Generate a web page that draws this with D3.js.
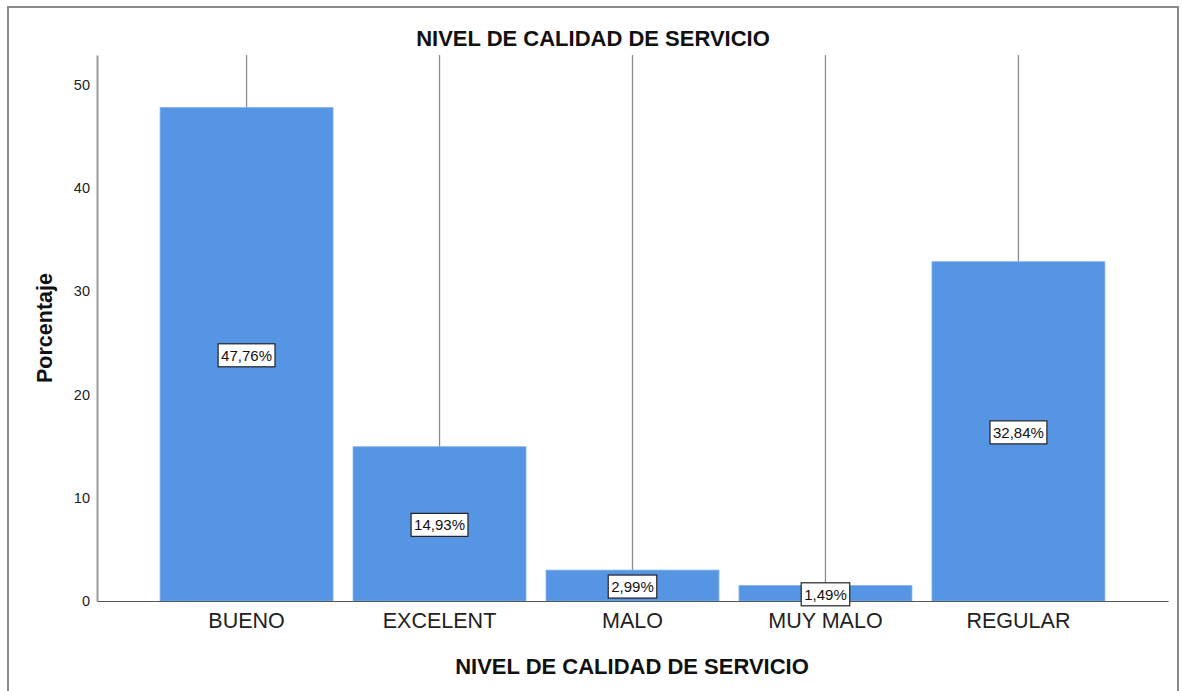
<!DOCTYPE html>
<html>
<head>
<meta charset="utf-8">
<script src="https://cdn.jsdelivr.net/npm/d3@7"></script>
<style>
  body { margin: 0; background: #fff; }
  svg { display: block; font-family: "Liberation Sans", Arial, sans-serif; }
</style>
</head>
<body>
<div id="chart"></div>
<script>
// chart data
var categories = ["BUENO", "EXCELENT", "MALO", "MUY MALO", "REGULAR"];
var percentages = [47.76, 14.93, 2.99, 1.49, 32.84];
var yTicks = [0, 10, 20, 30, 40, 50];
var chartTitle = "NIVEL DE CALIDAD DE SERVICIO";
var xTitle = "NIVEL DE CALIDAD DE SERVICIO";
var yTitle = "Porcentaje";

var W = 1182, H = 691;
var plot = {left: 97, right: 1168, top: 55, bottom: 601};

var svg = d3.select("#chart").append("svg")
    .attr("width", W)
    .attr("height", H);

// outer frame
svg.append("rect")
    .attr("x", 8).attr("y", 7)
    .attr("width", 1170).attr("height", 700)
    .attr("fill", "none")
    .attr("stroke", "#8a8a8a")
    .attr("stroke-width", 2);

var x = d3.scaleBand()
    .domain(categories)
    .range([plot.left, plot.right])
    .paddingInner(0.104)
    .paddingOuter(0.327);

var y = d3.scaleLinear()
    .domain([0, 52.85])
    .range([plot.bottom, plot.top]);

var data = categories.map(function(c, i) { return {cat: c, val: percentages[i]}; });

// vertical reference lines above bars
svg.append("g").selectAll("line")
    .data(data)
    .enter().append("line")
      .attr("x1", function(d) { return x(d.cat) + x.bandwidth() / 2; })
      .attr("x2", function(d) { return x(d.cat) + x.bandwidth() / 2; })
      .attr("y1", function(d) { return y(d.val); })
      .attr("y2", y.range()[1])
      .attr("stroke", "#8c8c8c")
      .attr("stroke-width", 1.3);

// bars
svg.append("g").selectAll("rect")
    .data(data)
    .enter().append("rect")
      .attr("x", function(d) { return x(d.cat); })
      .attr("y", function(d) { return y(d.val); })
      .attr("width", x.bandwidth())
      .attr("height", function(d) { return y(0) - y(d.val); })
      .attr("fill", "#5595e3")
      .attr("stroke", "#7eaeea")
      .attr("stroke-width", 0.8);

// y axis
var yAxis = svg.append("g")
    .attr("transform", "translate(" + plot.left + ",0)")
    .call(d3.axisLeft(y).tickValues(yTicks).tickSize(0).tickPadding(7).tickFormat(d3.format("d")));
yAxis.select(".domain").attr("stroke", "#999").attr("stroke-width", 2);
yAxis.selectAll("text")
    .attr("font-size", 14.5)
    .attr("font-family", "Liberation Sans, Arial, sans-serif")
    .attr("fill", "#222");

// x axis
var xAxis = svg.append("g")
    .attr("transform", "translate(0," + plot.bottom + ")")
    .call(d3.axisBottom(x).tickSize(0).tickPadding(12));
xAxis.select(".domain").attr("stroke", "#555").attr("stroke-width", 1.2);
xAxis.selectAll("text")
    .attr("font-size", 21.5)
    .attr("font-family", "Liberation Sans, Arial, sans-serif")
    .attr("fill", "#222");

// value labels
var fmt = function(v) { return v.toFixed(2).replace(".", ",") + "%"; };
var lab = svg.append("g").selectAll("g")
    .data(data)
    .enter().append("g")
      .attr("transform", function(d) {
        return "translate(" + (x(d.cat) + x.bandwidth() / 2) + "," + ((y(d.val) + y(0)) / 2 + 1) + ")";
      });
lab.append("rect").attr("fill", "#fff").attr("stroke", "#222").attr("stroke-width", 1.2);
lab.append("text")
    .attr("text-anchor", "middle")
    .attr("dy", "0.36em")
    .attr("font-size", 15)
    .attr("fill", "#111")
    .text(function(d) { return fmt(d.val); });
lab.each(function() {
  var g = d3.select(this);
  var b = g.select("text").node().getBBox();
  g.select("rect")
    .attr("x", b.x - 3).attr("y", -11.5)
    .attr("width", b.width + 6).attr("height", 23);
});

// titles
svg.append("text")
    .attr("x", 593).attr("y", 46)
    .attr("text-anchor", "middle")
    .attr("font-size", 22).attr("font-weight", "bold")
    .attr("fill", "#111")
    .text(chartTitle);

svg.append("text")
    .attr("x", 632).attr("y", 674)
    .attr("text-anchor", "middle")
    .attr("font-size", 22).attr("font-weight", "bold")
    .attr("fill", "#111")
    .text(xTitle);

svg.append("text")
    .attr("transform", "translate(52,328) rotate(-90)")
    .attr("text-anchor", "middle")
    .attr("font-size", 21.5).attr("font-weight", "bold")
    .attr("fill", "#111")
    .text(yTitle);
</script>
</body>
</html>
